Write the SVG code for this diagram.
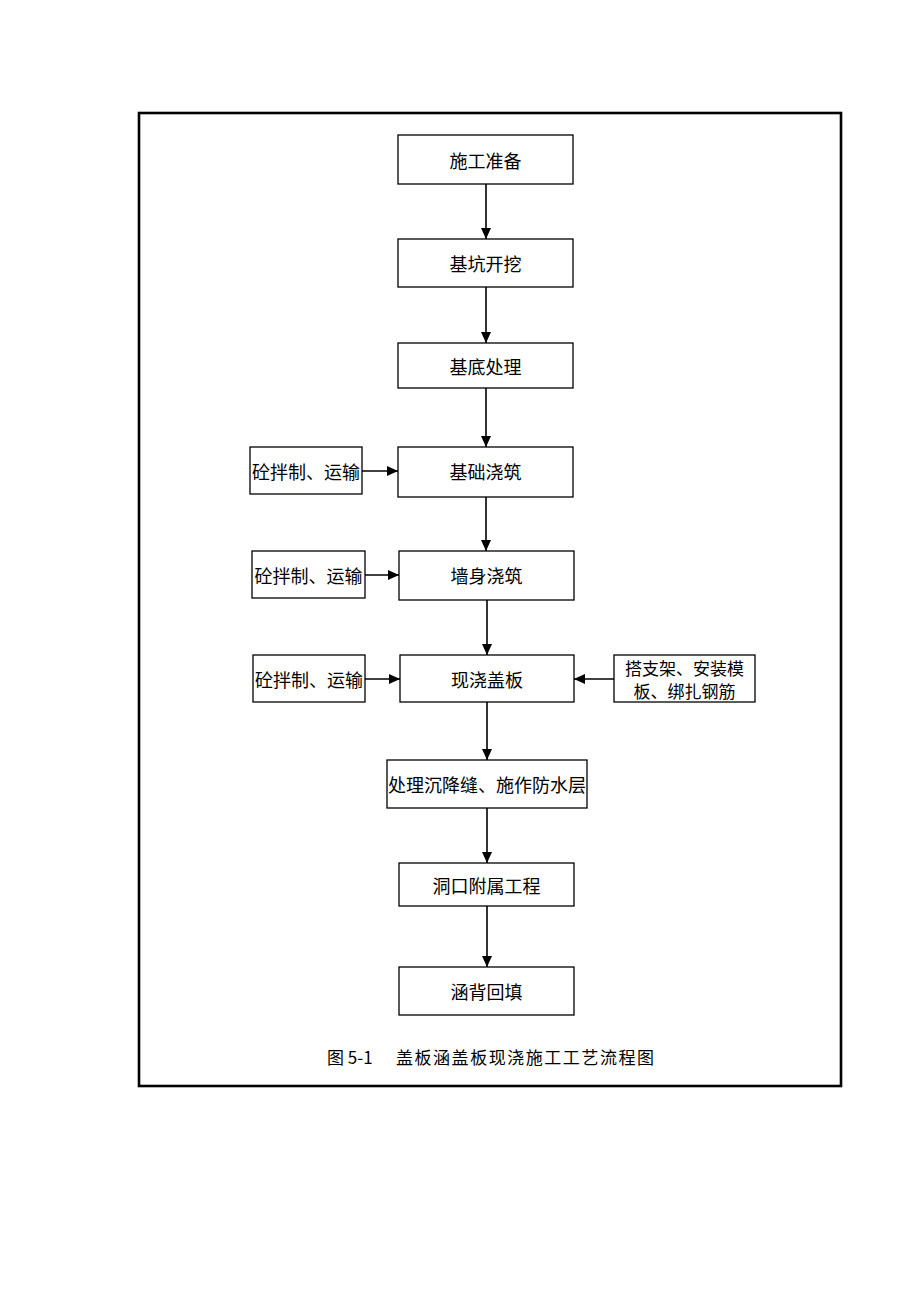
<svg xmlns="http://www.w3.org/2000/svg" width="920" height="1302" viewBox="0 0 920 1302">
<style>
.box{fill:#fff;stroke:#000;stroke-width:1.3}
.t{font-family:"Noto Sans CJK SC","Noto Sans",sans-serif;font-size:18px;fill:#000;text-anchor:middle;dominant-baseline:central}
.s{font-size:17px}
.cap{font-family:"Noto Sans CJK SC","Noto Sans",sans-serif;font-size:17px;fill:#000;dominant-baseline:central}
.c{stroke:#000;stroke-width:1.6;fill:none;marker-end:url(#ah)}
</style>
<defs>
<marker id="ah" markerUnits="userSpaceOnUse" markerWidth="12" markerHeight="10" refX="11" refY="5" orient="auto">
<path d="M0,0 L11,5 L0,10 Z" fill="#000"/>
</marker>
</defs>
<rect width="920" height="1302" fill="#fff"/>
<rect x="139" y="113" width="702" height="973" fill="none" stroke="#000" stroke-width="2.6"/>
<g id="connectors">
<line class="c" x1="486" y1="184" x2="486" y2="239"/>
<line class="c" x1="486" y1="287" x2="486" y2="343"/>
<line class="c" x1="486" y1="388" x2="486" y2="447"/>
<line class="c" x1="486" y1="497" x2="486" y2="551"/>
<line class="c" x1="487" y1="600" x2="487" y2="655"/>
<line class="c" x1="487" y1="702" x2="487" y2="760"/>
<line class="c" x1="487" y1="808" x2="487" y2="863"/>
<line class="c" x1="487" y1="906" x2="487" y2="967"/>
<line class="c" x1="362" y1="471" x2="398" y2="471"/>
<line class="c" x1="365" y1="575" x2="399" y2="575"/>
<line class="c" x1="365" y1="679" x2="400" y2="679"/>
<line class="c" x1="614" y1="679" x2="574" y2="679"/>
</g>
<g id="n1"><rect class="box" x="398" y="135" width="175" height="49"/><text class="t" x="485.5" y="159.5">施工准备</text></g>
<g id="n2"><rect class="box" x="398" y="239" width="175" height="48"/><text class="t" x="485.5" y="263">基坑开挖</text></g>
<g id="n3"><rect class="box" x="398" y="343" width="175" height="45"/><text class="t" x="485.5" y="366">基底处理</text></g>
<g id="n4"><rect class="box" x="398" y="447" width="175" height="50"/><text class="t" x="485.5" y="471">基础浇筑</text></g>
<g id="n4l"><rect class="box" x="250" y="447" width="112" height="47"/><text class="t" x="306" y="471">砼拌制、运输</text></g>
<g id="n5"><rect class="box" x="399" y="551" width="175" height="49"/><text class="t" x="486.5" y="575">墙身浇筑</text></g>
<g id="n5l"><rect class="box" x="252" y="551" width="113" height="47"/><text class="t" x="308.5" y="575">砼拌制、运输</text></g>
<g id="n6"><rect class="box" x="400" y="655" width="174" height="47"/><text class="t" x="487" y="679">现浇盖板</text></g>
<g id="n6l"><rect class="box" x="253" y="655" width="112" height="47"/><text class="t" x="309" y="679">砼拌制、运输</text></g>
<g id="n6r"><rect class="box" x="614" y="655" width="141" height="47"/><text class="t s" x="684.5" y="667">搭支架、安装模</text><text class="t s" x="684.5" y="690.5">板、绑扎钢筋</text></g>
<g id="n7"><rect class="box" x="387" y="760" width="200" height="48"/><text class="t" x="487" y="784">处理沉降缝、施作防水层</text></g>
<g id="n8"><rect class="box" x="399" y="863" width="175" height="43"/><text class="t" x="486.5" y="885">洞口附属工程</text></g>
<g id="n9"><rect class="box" x="399" y="967" width="175" height="48"/><text class="t" x="486.5" y="991">涵背回填</text></g>
<g id="caption"><text class="cap" x="327" y="1056">图 5-1</text><text class="cap" x="396" y="1056" textLength="258" lengthAdjust="spacing">盖板涵盖板现浇施工工艺流程图</text></g>
</svg>
